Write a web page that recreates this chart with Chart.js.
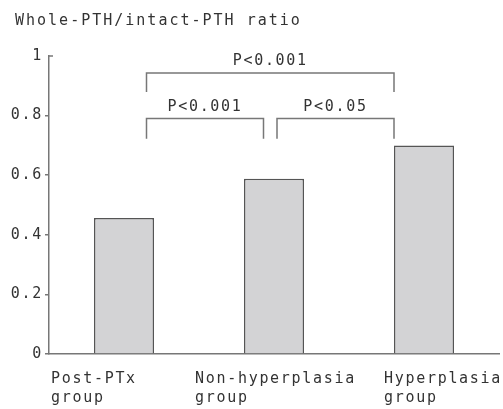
<!DOCTYPE html>
<html><head><meta charset="utf-8">
<script src="https://cdn.jsdelivr.net/npm/chart.js@4/dist/chart.umd.min.js"></script>
<style>html,body{margin:0;padding:0;background:#fff}#wrap{width:503px;height:409px}</style>
</head><body><div id="wrap"><canvas id="c" width="503" height="409"></canvas></div>
<script>
const titleText = 'Whole-PTH/intact-PTH ratio';
const categories = [['Post-PTx', 'group'], ['Non-hyperplasia', 'group'], ['Hyperplasia', 'group']];
const ratioValues = [0.456, 0.588, 0.700];
const yTickValues = [0, 0.2, 0.4, 0.6, 0.8, 1];
const bracketLabels = ['P<0.001', 'P<0.05', 'P<0.001'];
const bracketFrom = [0.15, 1.02, 0.15];
const bracketTo = [0.93, 1.80, 1.80];
const bracketLevel = [0.79, 0.79, 0.943];
const bracketLegEnd = [0.722, 0.722, 0.879];

const FONT = "'DejaVu Sans Mono', monospace";
const TEXT = '#333';
const AXIS = '#777';

const annot = {
  id: 'annot',
  beforeDraw(chart) { chart.ctx.letterSpacing = '1.7px'; },
  afterDraw(chart, args, opts) {
    const ctx = chart.ctx, xs = chart.scales.x, ys = chart.scales.y;
    ctx.save();
    ctx.fillStyle = TEXT;
    ctx.font = '15px ' + FONT;
    ctx.textBaseline = 'alphabetic';
    // title
    ctx.letterSpacing = '2px';
    ctx.textAlign = 'left';
    ctx.fillText(titleText, 15, 25);
    ctx.letterSpacing = '1.7px';
    // x labels
    categories.forEach((lines, i) => {
      const x = xs.getPixelForValue(i) + opts.labelShift[i];
      lines.forEach((t, k) => ctx.fillText(t, x, xs.top + 29 + k * 19));
    });
    // y axis top cap
    ctx.strokeStyle = AXIS;
    ctx.lineWidth = 1.5;
    ctx.beginPath();
    ctx.moveTo(xs.left, ys.top); ctx.lineTo(xs.left + 4, ys.top);
    ctx.stroke();
    // brackets
    bracketLabels.forEach((lab, i) => {
      const x1 = xs.getPixelForValue(bracketFrom[i]);
      const x2 = xs.getPixelForValue(bracketTo[i]);
      const y = ys.getPixelForValue(bracketLevel[i]);
      const y2 = ys.getPixelForValue(bracketLegEnd[i]);
      ctx.beginPath();
      ctx.moveTo(x1, y2); ctx.lineTo(x1, y); ctx.lineTo(x2, y); ctx.lineTo(x2, y2);
      ctx.stroke();
      ctx.textAlign = 'center';
      ctx.fillText(lab, (x1 + x2) / 2, y - 8);
    });
    ctx.restore();
  }
};

new Chart(document.getElementById('c'), {
  type: 'bar',
  data: {
    labels: categories,
    datasets: [{
      data: ratioValues,
      backgroundColor: '#d3d3d5',
      borderColor: '#555',
      borderWidth: 1.5,
      categoryPercentage: 1,
      barPercentage: 0.4
    }]
  },
  options: {
    responsive: false,
    devicePixelRatio: 1,
    animation: false,
    layout: { padding: { top: 56, right: 4, left: 0, bottom: 0 } },
    plugins: { legend: { display: false }, title: { display: false }, tooltip: { enabled: false },
      annot: { labelShift: [-73, -79, -40] } },
    scales: {
      x: {
        grid: { display: false },
        border: { display: true, color: AXIS, width: 1.5 },
        ticks: { display: false },
        afterFit(s) { s.height = 55; }
      },
      y: {
        min: 0, max: 1,
        afterBuildTicks(s) { s.ticks = yTickValues.map(v => ({ value: v })); },
        grid: { drawOnChartArea: false, drawTicks: true, tickLength: 4, lineWidth: 1.5,
          color: c => (c.tick && c.tick.value === 1) ? 'rgba(0,0,0,0)' : AXIS },
        border: { display: true, color: AXIS, width: 1.5 },
        ticks: { padding: 2, color: TEXT, font: { family: FONT, size: 15 }, callback: v => String(v) },
        afterFit(s) { s.width = 49; }
      }
    }
  },
  plugins: [annot]
});
</script></body></html>
